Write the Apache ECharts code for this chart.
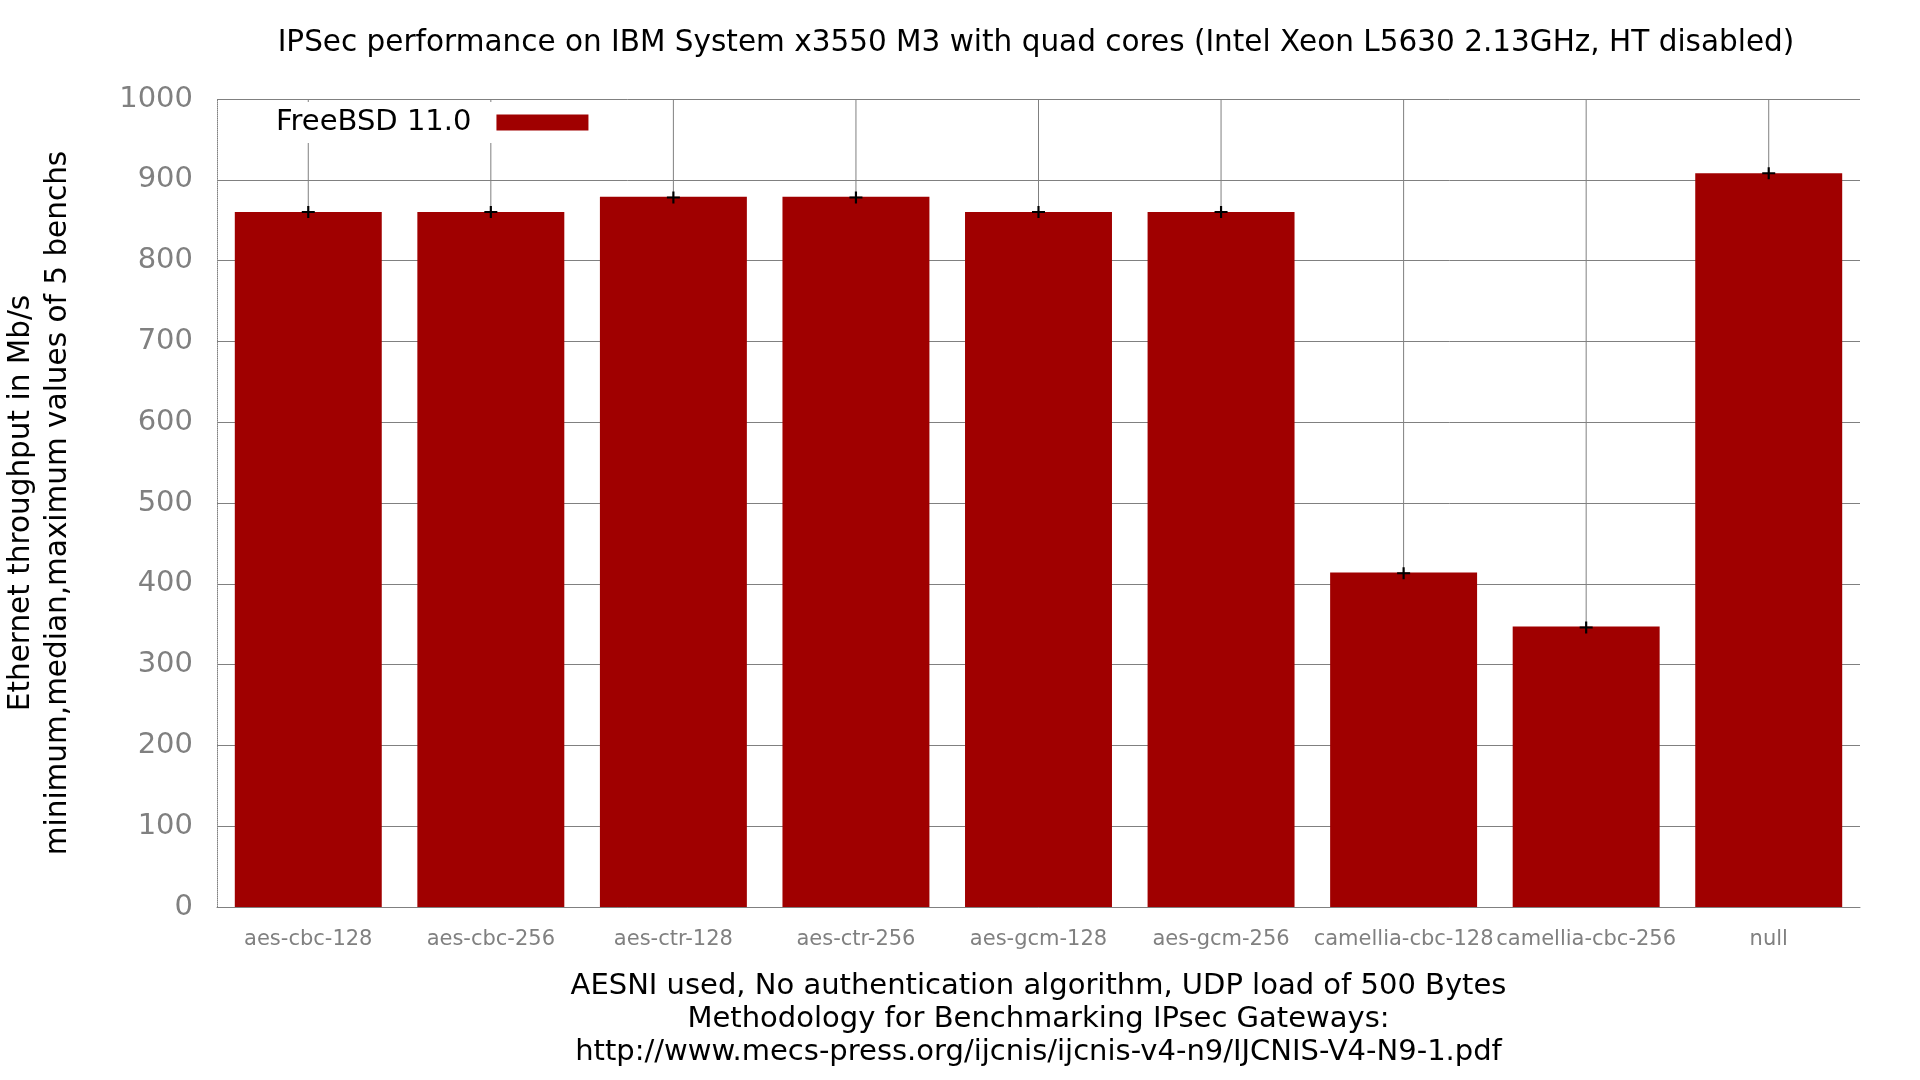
<!DOCTYPE html>
<html>
<head>
<meta charset="utf-8">
<script src="https://cdn.jsdelivr.net/npm/echarts@6/dist/echarts.min.js"></script>
<style>
  html, body { margin: 0; padding: 0; background: #fff; }
  #chart { width: 1920px; height: 1080px; }
</style>
</head>
<body>
<div id="chart"></div>
<script>
// categories and values
const categories = ['aes-cbc-128', 'aes-cbc-256', 'aes-ctr-128', 'aes-ctr-256',
  'aes-gcm-128', 'aes-gcm-256', 'camellia-cbc-128', 'camellia-cbc-256', 'null'];
const throughput = [860, 860, 879, 879, 860, 860, 414, 347, 908];
const medians = [860, 860, 878, 878, 860, 860, 413, 346, 908];
const yTicks = [0, 100, 200, 300, 400, 500, 600, 700, 800, 900, 1000];

const FONT = 'DejaVu Sans';
const GRAY = '#808080';

const chart = echarts.init(document.getElementById('chart'));

chart.setOption({
  animation: false,
  backgroundColor: '#fff',
  textStyle: {fontFamily: FONT},
  grid: {left: 217, right: 60, top: 99, bottom: 173, containLabel: false, outerBoundsMode: 'none'},
  graphic: [{
    type: 'text',
    x: 1036, y: 43,
    style: {
      text: 'IPSec performance on IBM System x3550 M3 with quad cores (Intel Xeon L5630 2.13GHz, HT disabled)',
      font: '29.5px "DejaVu Sans"',
      fill: '#000',
      align: 'center',
      verticalAlign: 'middle'
    }
  }],
  legend: {
    left: 262, top: 102,
    data: ['FreeBSD 11.0'],
    align: 'right',
    icon: 'rect',
    itemWidth: 92,
    itemHeight: 16,
    backgroundColor: '#fff',
    padding: [6, 10, 6, 14],
    textStyle: {fontSize: 29, color: '#000', fontFamily: FONT, padding: [0, 20, 0, 0]}
  },
  xAxis: {
    type: 'category',
    data: categories,
    name: 'AESNI used, No authentication algorithm, UDP load of 500 Bytes\nMethodology for Benchmarking IPsec Gateways:\nhttp://www.mecs-press.org/ijcnis/ijcnis-v4-n9/IJCNIS-V4-N9-1.pdf',
    nameLocation: 'middle',
    nameGap: 63,
    nameTextStyle: {fontSize: 29, color: '#000', lineHeight: 33, verticalAlign: 'top', fontFamily: FONT},
    axisLine: {lineStyle: {color: GRAY, width: 1}},
    axisTick: {show: false},
    axisLabel: {color: GRAY, fontSize: 21, margin: 22, interval: 0, fontFamily: FONT},
    splitLine: {show: false}
  },
  yAxis: {
    type: 'value',
    min: yTicks[0],
    max: yTicks[yTicks.length - 1],
    interval: 100,
    name: 'Ethernet throughput in Mb/s\nminimum,median,maximum values of 5 benchs',
    nameLocation: 'middle',
    nameGap: 140,
    nameTextStyle: {fontSize: 29.5, color: '#000', lineHeight: 37, fontFamily: FONT},
    axisLine: {show: true, lineStyle: {color: GRAY, type: 'dotted', width: 1}},
    axisTick: {show: false},
    axisLabel: {color: GRAY, fontSize: 29, margin: 24, fontFamily: FONT, formatter: (v) => String(v)},
    splitLine: {show: true, lineStyle: {color: GRAY, width: 1}}
  },
  series: [
    {
      // vertical grid lines at every category, kept behind the bars
      type: 'custom',
      data: categories.map((c, i) => i),
      z: 1,
      silent: true,
      renderItem: (params, api) => {
        const top = api.coord([api.value(0), yTicks[yTicks.length - 1]]);
        const bottom = api.coord([api.value(0), yTicks[0]]);
        return {
          type: 'line',
          shape: {x1: top[0], y1: top[1], x2: bottom[0], y2: bottom[1]},
          style: {stroke: GRAY, lineWidth: 1}
        };
      }
    },
    {
      name: 'FreeBSD 11.0',
      type: 'bar',
      data: throughput,
      z: 3,
      barCategoryGap: '19.5%',
      itemStyle: {color: '#a00000'}
    },
    {
      type: 'scatter',
      data: medians,
      z: 4,
      symbol: 'path://M0,5 H12 V7 H0 Z M5,0 H7 V12 H5 Z',
      symbolSize: [13, 12],
      itemStyle: {color: '#000', opacity: 1}
    }
  ]
});
</script>
</body>
</html>
